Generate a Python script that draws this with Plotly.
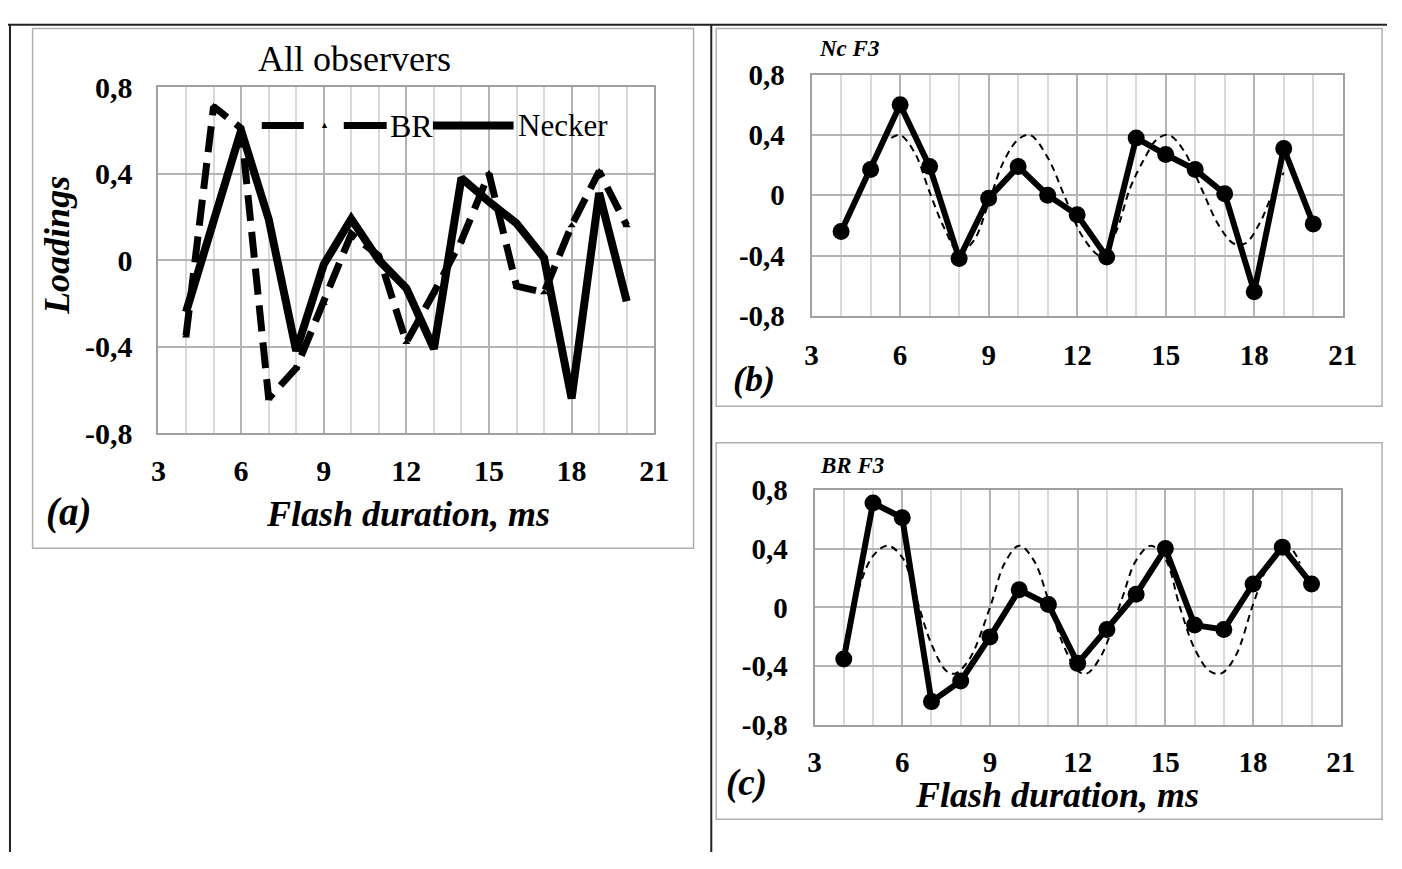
import plotly.graph_objects as go

# ---------------- data ----------------
flash_ms = [4, 5, 6, 7, 8, 9, 10, 11, 12, 13, 14, 15, 16, 17, 18, 19, 20]
necker_f3 = [-0.24, 0.17, 0.60, 0.19, -0.42, -0.02, 0.19, 0.00, -0.13, -0.41,
             0.38, 0.27, 0.17, 0.01, -0.64, 0.31, -0.19]
br_f3 = [-0.35, 0.71, 0.61, -0.64, -0.50, -0.20, 0.12, 0.02, -0.38, -0.15,
         0.09, 0.40, -0.12, -0.15, 0.16, 0.41, 0.16]

# dashed fitted curves
nc_fit_x = [5.7, 6.0, 6.5, 7.0, 7.5, 8.0, 8.5, 9.0, 9.5, 10.0, 10.4, 11.0, 11.6,
            12.2, 12.8, 13.3, 13.8, 14.3, 14.7, 15.1, 15.6, 16.2, 16.8, 17.3,
            17.7, 18.2, 18.6, 19.0]
nc_fit_y = [0.38, 0.40, 0.28, 0.02, -0.22, -0.38, -0.30, -0.05, 0.22, 0.37,
            0.40, 0.25, -0.02, -0.28, -0.40, -0.25, 0.05, 0.25, 0.37, 0.40,
            0.30, 0.05, -0.20, -0.32, -0.32, -0.18, 0.00, 0.15]
br_fit_x = [4.0, 4.5, 5.0, 5.5, 6.0, 6.5, 7.0, 7.5, 7.8, 8.3, 9.0, 9.5, 10.0,
            10.5, 11.0, 11.5, 12.0, 12.3, 12.8, 13.5, 14.0, 14.5, 15.0, 15.5,
            16.0, 16.5, 16.9, 17.4, 18.0, 18.5, 19.0, 19.3, 19.6]
br_fit_y = [-0.28, 0.12, 0.35, 0.42, 0.34, 0.05, -0.25, -0.43, -0.45, -0.35,
            0.00, 0.30, 0.42, 0.32, 0.05, -0.25, -0.43, -0.45, -0.33, 0.05,
            0.32, 0.42, 0.33, 0.00, -0.28, -0.43, -0.45, -0.33, 0.02, 0.28,
            0.41, 0.40, 0.30]

x_ticks = [3, 6, 9, 12, 15, 18, 21]
y_ticks = [-0.8, -0.4, 0, 0.4, 0.8]
y_ticktext = ["-0,8", "-0,4", "0", "0,4", "0,8"]

# ---------------- helpers ----------------
W, H = 1402, 869


def px(x):
    return x / W


def py(y):
    return 1 - y / H


SERIF = "Liberation Serif, Times New Roman, serif"
MAJOR = "#b4b4b4"
MINOR = "#dadada"

fig = go.Figure()

# (a) All observers
fig.add_trace(go.Scatter(x=flash_ms, y=br_f3, mode="lines+markers", name="BR",
                         line=dict(color="black", width=7, dash="26px,11px"),
                         marker=dict(symbol="triangle-up", size=7, color="black"),
                         xaxis="x", yaxis="y", showlegend=False))
fig.add_trace(go.Scatter(x=flash_ms, y=necker_f3, mode="lines", name="Necker",
                         line=dict(color="black", width=8),
                         xaxis="x", yaxis="y", showlegend=False))

# (b) Nc F3
fig.add_trace(go.Scatter(x=nc_fit_x, y=nc_fit_y, mode="lines",
                         line=dict(color="black", width=2, dash="7px,5px", shape="spline"),
                         xaxis="x2", yaxis="y2", showlegend=False))
fig.add_trace(go.Scatter(x=flash_ms, y=necker_f3, mode="lines+markers",
                         line=dict(color="black", width=6),
                         marker=dict(symbol="circle", size=17, color="black"),
                         xaxis="x2", yaxis="y2", showlegend=False))

# (c) BR F3
fig.add_trace(go.Scatter(x=br_fit_x, y=br_fit_y, mode="lines",
                         line=dict(color="black", width=2, dash="7px,5px", shape="spline"),
                         xaxis="x3", yaxis="y3", showlegend=False))
fig.add_trace(go.Scatter(x=flash_ms, y=br_f3, mode="lines+markers",
                         line=dict(color="black", width=6),
                         marker=dict(symbol="circle", size=17, color="black"),
                         xaxis="x3", yaxis="y3", showlegend=False))


def xax(domain, anchor, size, standoff):
    return dict(domain=domain, anchor=anchor, range=[3, 21], tickvals=x_ticks,
                showgrid=True, gridcolor=MAJOR, gridwidth=1.5,
                minor=dict(dtick=1, showgrid=True, gridcolor=MINOR, gridwidth=1.5),
                showline=True, linecolor="#a0a0a0", linewidth=2, mirror=True,
                zeroline=False, ticks="", ticklabelstandoff=standoff,
                tickfont=dict(family=SERIF, size=size, color="black", weight="bold"))


def yax(domain, anchor, size, standoff):
    return dict(domain=domain, anchor=anchor, range=[-0.8, 0.8], tickvals=y_ticks,
                ticktext=y_ticktext, showgrid=True, gridcolor=MAJOR, gridwidth=1.5,
                showline=True, linecolor="#a0a0a0", linewidth=2, mirror=True,
                zeroline=False, ticks="", ticklabelstandoff=standoff,
                tickfont=dict(family=SERIF, size=size, color="black", weight="bold"))


fig.update_layout(
    width=W, height=H, margin=dict(l=0, r=0, t=0, b=0),
    paper_bgcolor="white", plot_bgcolor="white",
    xaxis=xax([px(153), px(657)], "y", 30, 10),
    yaxis=yax([py(433), py(73)], "x", 30, 18),
    xaxis2=xax([px(817), px(1357)], "y2", 29, 12),
    yaxis2=yax([py(311), py(60)], "x2", 29, 19),
    xaxis3=xax([px(820), px(1355)], "y3", 29, 10),
    yaxis3=yax([py(737), py(492)], "x3", 29, 19),
)

shapes = []
# outer black frame lines
shapes.append(dict(type="line", xref="paper", yref="paper", x0=0, x1=1, y0=py(8), y1=py(8),
                   line=dict(color="#222", width=2)))
shapes.append(dict(type="line", xref="paper", yref="paper", x0=px(715), x1=px(715), y0=py(8), y1=0,
                   line=dict(color="#222", width=2)))
shapes.append(dict(type="line", xref="paper", yref="paper", x0=px(2), x1=px(2), y0=py(8), y1=0,
                   line=dict(color="#222", width=2)))
# panel boxes
for (x0, y0, x1, y1) in [(25, 12, 697, 553), (720, 12, 1397, 405), (720, 443, 1397, 835)]:
    shapes.append(dict(type="rect", xref="paper", yref="paper", x0=px(x0), x1=px(x1),
                       y0=py(y1), y1=py(y0), line=dict(color="#b0b0b0", width=1.5)))
# legend samples in (a)
shapes.append(dict(type="line", xref="paper", yref="paper", x0=px(258), x1=px(385),
                   y0=py(113), y1=py(113),
                   line=dict(color="black", width=7, dash="42px,40px,45px")))
shapes.append(dict(type="line", xref="paper", yref="paper", x0=px(432), x1=px(514),
                   y0=py(113), y1=py(113), line=dict(color="black", width=8)))
fig.update_layout(shapes=shapes)


def ann(text, x, y, size, bold=False, italic=False, angle=0, xanchor="center"):
    return dict(text=text, xref="paper", yref="paper", x=px(x), y=py(y), showarrow=False,
                xanchor=xanchor, yanchor="middle", textangle=angle,
                font=dict(family=SERIF, size=size, color="black",
                          weight="bold" if bold else "normal",
                          style="italic" if italic else "normal"))


anns = [
    ann("All observers", 352, 44, 36),
    ann("Loadings", 50, 238, 36, bold=True, italic=True, angle=-90),
    ann("Flash duration, ms", 407, 517, 36, bold=True, italic=True),
    ann("(a)", 62, 515, 39, bold=True, italic=True),
    ann("▲", 322, 112, 9),
    ann("BR", 386, 113, 32, xanchor="left"),
    ann("Necker", 516, 113, 31, xanchor="left"),
    ann("Nc F3", 855, 33, 23, bold=True, italic=True),
    ann("(b)", 758, 377, 36, bold=True, italic=True),
    ann("BR F3", 858, 467, 23, bold=True, italic=True),
    ann("(c)", 751, 797, 37, bold=True, italic=True),
    ann("Flash duration, ms", 1066, 810, 36, bold=True, italic=True),
]
fig.update_layout(annotations=anns)

fig.write_html("out.html")
